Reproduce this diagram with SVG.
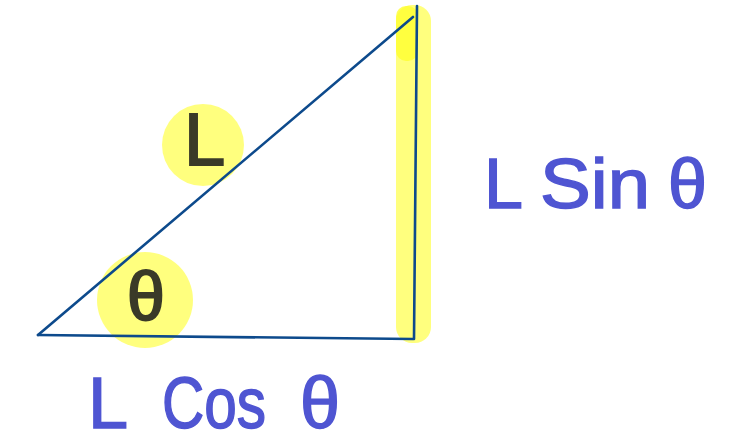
<svg xmlns="http://www.w3.org/2000/svg" width="756" height="448" viewBox="0 0 756 448">
<style>
.hl{fill:#ffff70;fill-opacity:0.9}
.edge{stroke:#0d4a8c;stroke-width:2.6;fill:none;stroke-linecap:round}
.hand{font-family:"Liberation Sans",Arial,sans-serif;fill:#4f55d2;stroke:#4f55d2;stroke-width:1.5}
.dark{font-family:"Liberation Sans",Arial,sans-serif;fill:#3a3a28;stroke:#3a3a28;stroke-width:2}
</style>
<rect width="756" height="448" fill="#ffffff"/>
<g id="highlights">
<rect class="hl" x="396" y="5" width="35" height="338" rx="16"/>
<rect x="396" y="6" width="22" height="55" rx="10" fill="#ffff30" fill-opacity="0.8"/>
<circle class="hl" cx="203" cy="145" r="41"/>
<circle class="hl" cx="145" cy="300" r="48"/>
</g>
<g id="connectors">
<line class="edge" x1="38" y1="335" x2="413" y2="17"/>
<line class="edge" x1="38" y1="335" x2="413" y2="339"/>
<line class="edge" x1="417" y1="6" x2="414" y2="339"/>
</g>
<g id="label-L">
<text class="dark" x="184" y="165" font-size="74">L</text>
</g>
<g id="label-theta">
<text class="dark" x="146" y="320" font-size="68" text-anchor="middle">θ</text>
</g>
<g id="label-lcos">
<text class="hand" y="428" font-size="72"><tspan x="88">L</tspan><tspan x="162" textLength="104" lengthAdjust="spacingAndGlyphs">Cos</tspan><tspan x="300">θ</tspan></text>
</g>
<g id="label-lsin">
<text class="hand" y="208" font-size="70"><tspan x="484">L</tspan><tspan x="540" textLength="110" lengthAdjust="spacingAndGlyphs">Sin</tspan><tspan x="668">θ</tspan></text>
</g>
</svg>
